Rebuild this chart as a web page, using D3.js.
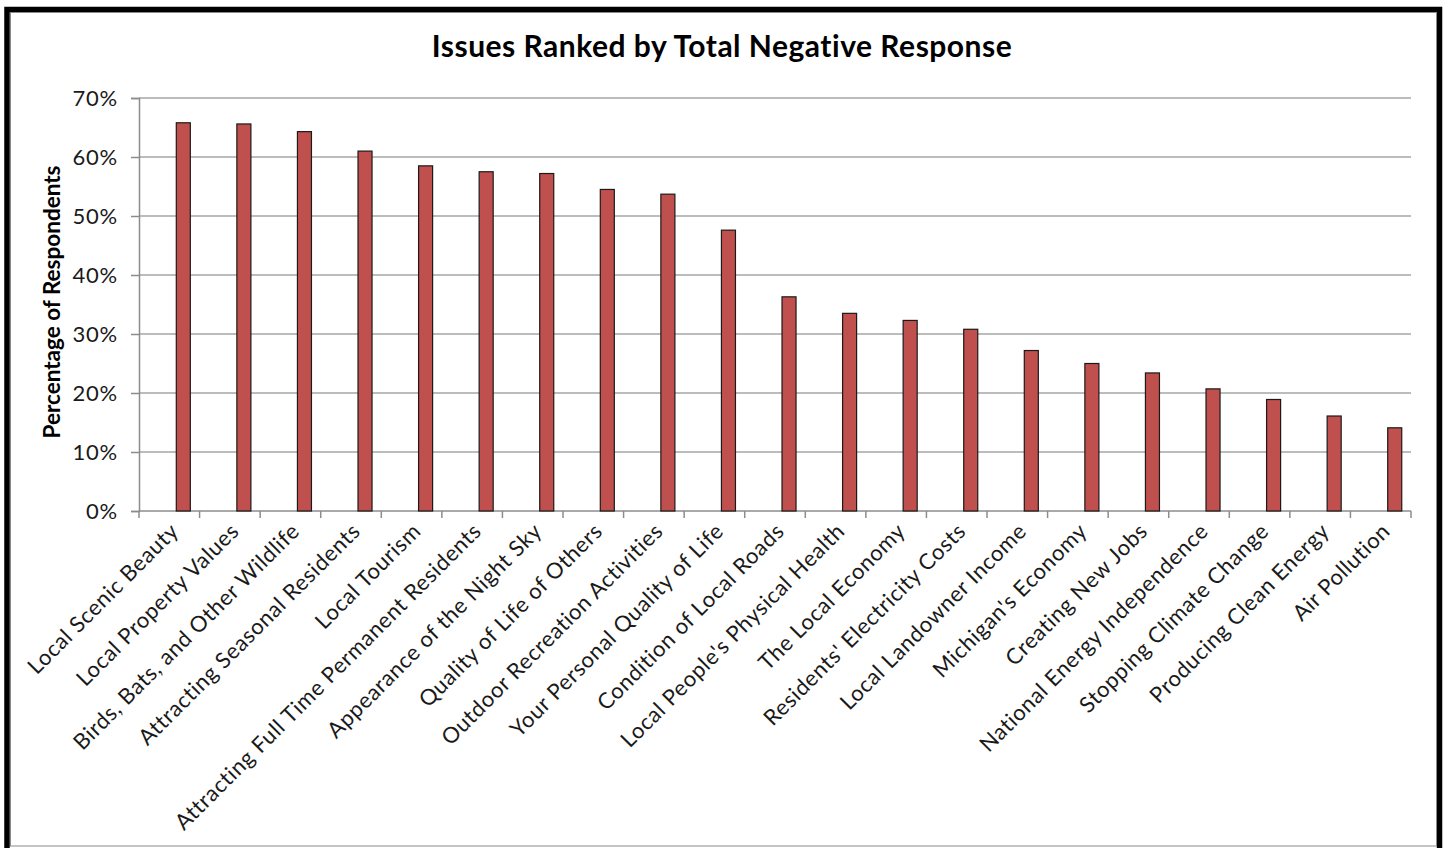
<!DOCTYPE html>
<html>
<head>
<meta charset="utf-8">
<script src="https://cdn.jsdelivr.net/npm/d3@7/dist/d3.min.js"></script>
<style>
  html, body { margin: 0; padding: 0; background: #fff; }
  svg { display: block; font-family: "Lato", "Open Sans", sans-serif; }
</style>
</head>
<body>
<svg id="chart" width="1444" height="848"></svg>
<script>
// Issues and share of respondents answering negatively (percent)
const categories = [
  "Local Scenic Beauty",
  "Local Property Values",
  "Birds, Bats, and Other Wildlife",
  "Attracting Seasonal Residents",
  "Local Tourism",
  "Attracting Full Time Permanent Residents",
  "Appearance of the Night Sky",
  "Quality of Life of Others",
  "Outdoor Recreation Activities",
  "Your Personal Quality of Life",
  "Condition of Local Roads",
  "Local People's Physical Health",
  "The Local Economy",
  "Residents' Electricity Costs",
  "Local Landowner Income",
  "Michigan's Economy",
  "Creating New Jobs",
  "National Energy Independence",
  "Stopping Climate Change",
  "Producing Clean Energy",
  "Air Pollution"
];
const negativeShare = [
  65.8, 65.6, 64.3, 61.0, 58.5, 57.5, 57.2, 54.5, 53.7, 47.6,
  36.3, 33.5, 32.3, 30.8, 27.2, 25.0, 23.4, 20.7, 18.9, 16.1, 14.1
];
const yTicks = [0, 10, 20, 30, 40, 50, 60, 70];
// three clustered slots per category; only the last one carries data
const seriesSlots = ["slotA", "slotB", "negative"];

const titleText = "Issues Ranked by Total Negative Response";
const yAxisTitle = "Percentage of Respondents";

const svg = d3.select("#chart");
const W = 1444, H = 848;
const plot = { left: 139, right: 1411, top: 98, bottom: 511 };

// outer frame
svg.append("rect")
  .attr("x", 7).attr("y", 9.5)
  .attr("width", 1432.5).attr("height", 842)
  .attr("fill", "#fff")
  .attr("stroke", "#000").attr("stroke-width", 5.5);
svg.append("rect")
  .attr("x", 10.5).attr("y", 12.5)
  .attr("width", 1426).attr("height", 833.5)
  .attr("fill", "none")
  .attr("stroke", "#8a8a8a").attr("stroke-width", 1);

const x = d3.scaleBand()
  .domain(categories)
  .range([plot.left, plot.right])
  .paddingInner(0).paddingOuter(0);

const slot = d3.scaleBand()
  .domain(seriesSlots)
  .range([0, x.bandwidth()])
  .paddingInner(0)
  .paddingOuter(0.66);

const y = d3.scaleLinear()
  .domain([0, 70])
  .range([plot.bottom, plot.top]);

// horizontal gridlines
svg.append("g")
  .selectAll("line")
  .data(yTicks.filter(d => d > 0))
  .join("line")
  .attr("x1", plot.left).attr("x2", plot.right)
  .attr("y1", d => y(d)).attr("y2", d => y(d))
  .attr("stroke", "#a6a6a6").attr("stroke-width", 1.5);

// y axis
const yAxis = svg.append("g")
  .attr("transform", `translate(${plot.left},0)`)
  .call(d3.axisLeft(y).tickValues(yTicks).tickFormat(d => d + "%").tickSize(8).tickPadding(13));
yAxis.select(".domain").attr("stroke", "#8c8c8c").attr("stroke-width", 1.5);
yAxis.selectAll(".tick line").attr("stroke", "#8c8c8c").attr("stroke-width", 1.5);
yAxis.selectAll(".tick text")
  .attr("font-size", 22).attr("fill", "#1a1a1a")
  .attr("letter-spacing", 0.8)
  .attr("font-family", "Lato, sans-serif");

// x axis line and boundary ticks
svg.append("line")
  .attr("x1", plot.left).attr("x2", plot.right)
  .attr("y1", plot.bottom).attr("y2", plot.bottom)
  .attr("stroke", "#8c8c8c").attr("stroke-width", 1.5);
const boundaries = categories.map(c => x(c)).concat([plot.right]);
svg.append("g")
  .selectAll("line")
  .data(boundaries)
  .join("line")
  .attr("x1", d => d).attr("x2", d => d)
  .attr("y1", plot.bottom).attr("y2", plot.bottom + 7)
  .attr("stroke", "#8c8c8c").attr("stroke-width", 1.5);

// bars
svg.append("g")
  .selectAll("rect")
  .data(categories.map((c, i) => ({ c, v: negativeShare[i] })))
  .join("rect")
  .attr("x", d => x(d.c) + slot("negative"))
  .attr("y", d => y(d.v))
  .attr("width", slot.bandwidth())
  .attr("height", d => y(0) - y(d.v))
  .attr("fill", "#c0504d")
  .attr("stroke", "#1a1a1a").attr("stroke-width", 1.2);

// rotated category labels
svg.append("g")
  .selectAll("text")
  .data(categories)
  .join("text")
  .attr("transform", d => `translate(${x(d) + x.bandwidth() / 2 + 2},${plot.bottom + 13}) rotate(-45)`)
  .attr("text-anchor", "end")
  .attr("dy", "0.55em")
  .attr("font-size", 22)
  .attr("letter-spacing", 0.6)
  .attr("fill", "#1a1a1a")
  .text(d => d);

// y axis title
svg.append("text")
  .attr("transform", `translate(60,302) rotate(-90)`)
  .attr("text-anchor", "middle")
  .attr("font-size", 22.5).attr("font-weight", "bold")
  .attr("fill", "#000")
  .text(yAxisTitle);

// chart title
svg.append("text")
  .attr("x", 722).attr("y", 57)
  .attr("text-anchor", "middle")
  .attr("font-size", 30).attr("font-weight", "bold")
  .attr("letter-spacing", 0.5)
  .attr("fill", "#000")
  .text(titleText);
</script>
</body>
</html>
